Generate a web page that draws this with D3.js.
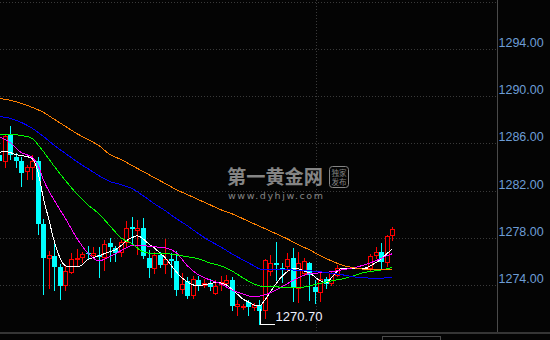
<!DOCTYPE html>
<html>
<head>
<meta charset="utf-8">
<script src="https://cdn.jsdelivr.net/npm/d3@7"></script>
<style>
  html, body { margin: 0; padding: 0; background: #040404; }
  svg { display: block; }
</style>
</head>
<body>
<svg id="kline" width="550" height="340"></svg>
<script>
// candles, oldest first
var open = [1285.06,1284.47,1286.68,1284.89,1284.55,1283.70,1283.96,1284.55,1279.19,1276.30,
  1276.47,1275.53,1274.00,1275.11,1276.17,1276.38,1276.72,1276.55,1276.55,1276.38,
  1277.57,1277.15,1276.81,1277.66,1278.94,1278.68,1278.85,1276.30,1275.45,1276.55,
  1275.79,1276.21,1276.04,1273.66,1274.34,1273.15,1274.43,1274.00,1274.17,1273.32,
  1274.09,1274.17,1274.43,1272.21,1272.13,1272.55,1272.13,1272.30,1271.87,1275.19,
  1275.87,1275.45,1275.62,1276.30,1273.74,1275.02,1275.87,1273.83,1273.40,1274.51,
  1274.17,1274.85,1275.42,1275.42,1275.42,1275.42,1275.42,1275.45,1276.55,1276.81,
  1275.96,1278.26];
var high = [1285.32,1286.77,1287.45,1285.23,1284.81,1284.21,1284.98,1284.81,1279.62,1276.89,
  1277.66,1275.79,1275.70,1276.72,1277.06,1276.81,1277.32,1277.23,1277.23,1277.83,
  1278.00,1277.32,1277.83,1279.45,1279.79,1279.53,1279.70,1276.98,1276.81,1276.81,
  1277.91,1276.72,1276.89,1275.02,1274.68,1274.77,1274.77,1274.51,1274.51,1274.43,
  1274.77,1274.85,1274.68,1272.72,1272.38,1272.72,1272.47,1272.72,1276.21,1276.55,
  1277.66,1275.87,1276.72,1277.15,1276.81,1276.30,1275.96,1274.43,1275.02,1274.68,
  1275.19,1275.70,1275.42,1275.42,1275.42,1275.42,1275.42,1276.64,1277.23,1277.57,
  1278.26,1278.94];
var low = [1284.21,1283.96,1284.64,1284.04,1282.43,1282.94,1282.94,1278.34,1273.23,1273.74,
  1273.57,1272.81,1273.57,1275.02,1275.70,1275.96,1276.30,1276.30,1274.68,1275.28,
  1276.04,1276.04,1276.47,1277.23,1277.57,1276.64,1276.30,1274.68,1275.02,1275.53,
  1275.02,1274.68,1273.15,1273.32,1272.89,1272.89,1273.57,1273.83,1273.57,1273.23,
  1273.57,1274.00,1271.87,1271.45,1271.96,1271.45,1271.87,1270.70,1271.19,1274.85,
  1274.43,1274.26,1275.28,1272.64,1272.55,1274.85,1272.72,1272.47,1272.64,1273.74,
  1274.00,1274.77,1275.42,1275.42,1275.42,1275.42,1275.42,1275.28,1276.30,1275.45,
  1275.62,1277.83];
var close = [1284.47,1286.60,1285.06,1284.55,1283.53,1283.96,1284.55,1279.19,1276.30,1276.55,
  1275.53,1273.91,1275.19,1276.21,1276.30,1276.64,1276.64,1276.72,1276.38,1277.49,
  1277.23,1276.72,1277.66,1278.85,1278.77,1278.85,1276.47,1275.45,1276.55,1275.70,
  1276.21,1276.04,1273.57,1274.09,1273.06,1274.51,1274.00,1274.17,1273.83,1273.91,
  1274.26,1274.43,1272.21,1272.38,1272.21,1272.13,1272.30,1271.79,1276.13,1275.87,
  1275.70,1275.28,1276.21,1273.74,1275.87,1276.04,1274.85,1273.40,1274.51,1274.09,
  1275.02,1275.42,1275.42,1275.42,1275.42,1275.42,1275.42,1276.47,1276.81,1275.96,
  1278.17,1278.77];

// moving averages: [candle index, price]
var ma5 = [1285.23,1285.32,1285.23,1285.06,1284.98,1284.89,1284.72,1283.62,1281.40,1279.53,
  1277.66,1276.30,1275.62,1275.53,1275.53,1275.70,1276.13,1276.30,1276.47,1276.64,
  1276.81,1276.98,1277.32,1277.74,1278.00,1278.17,1277.91,1277.49,1277.15,1276.72,
  1276.30,1275.70,1275.11,1274.60,1274.26,1274.00,1273.91,1274.00,1274.09,1274.17,
  1274.17,1274.00,1273.66,1273.23,1272.81,1272.55,1272.30,1272.21,1272.72,1273.40,
  1274.09,1274.68,1275.11,1275.36,1275.36,1275.19,1275.02,1274.68,1274.34,1274.17,
  1274.60,1275.11,1275.42,1275.42,1275.42,1275.42,1275.42,1275.62,1275.87,1276.21,
  1276.64,1277.06].map(function (v, i) { return [i, v]; });
var ma10 = [[0,1286.59],[2,1286.08],[4,1285.23],[6,1284.81],[7,1284.21],[8,1282.94],[10,1281.15],
  [12,1279.62],[14,1278.00],[16,1276.72],[18,1276.04],[20,1276.38],[22,1276.89],[24,1277.32],
  [26,1277.32],[28,1277.23],[30,1277.15],[32,1276.72],[34,1275.62],[36,1274.85],[38,1274.43],
  [40,1274.09],[42,1273.57],[44,1273.23],[46,1272.98],[48,1273.15],[50,1273.57],[52,1274.09],
  [54,1274.60],[56,1274.94],[58,1275.02],[60,1275.11],[62,1275.28],[64,1275.45],[66,1275.70],
  [68,1276.04],[70,1276.47],[71,1276.64]];
var ma20 = [[0,1286.77],[2,1286.77],[4,1286.68],[6,1286.43],[7,1285.91],[8,1285.32],[10,1284.04],
  [12,1282.85],[14,1281.74],[16,1280.81],[18,1280.04],[20,1279.02],[22,1278.00],[24,1277.49],
  [26,1276.81],[28,1276.64],[30,1276.64],[32,1276.55],[34,1276.38],[36,1276.21],[38,1275.87],
  [40,1275.62],[42,1275.19],[44,1274.60],[46,1274.09],[48,1273.83],[50,1273.83],[52,1273.74],
  [54,1273.74],[56,1273.91],[58,1274.13],[60,1274.34],[62,1274.51],[64,1274.77],[66,1275.06],
  [68,1275.19],[70,1275.36],[71,1275.49]];
var ma40 = [[0,1288.30],[2,1288.13],[4,1287.79],[6,1287.28],[8,1286.60],[10,1285.83],[12,1285.15],
  [14,1284.47],[16,1283.87],[18,1283.28],[20,1282.77],[22,1282.51],[24,1282.17],[26,1281.57],
  [28,1280.89],[30,1280.30],[32,1279.62],[34,1279.02],[36,1278.34],[38,1277.74],[40,1277.23],
  [42,1276.64],[44,1276.13],[46,1275.62],[47,1275.36],[48,1275.28],[50,1275.28],[52,1275.28],
  [54,1275.23],[56,1275.19],[58,1275.11],[60,1274.98],[62,1274.85],[64,1274.68],[66,1274.60],
  [68,1274.55],[70,1274.60],[71,1274.64]];
var ma60 = [[0,1289.83],[2,1289.66],[4,1289.40],[6,1289.06],[8,1288.64],[10,1288.04],[12,1287.45],
  [14,1286.85],[16,1286.34],[18,1285.83],[20,1285.06],[22,1284.64],[24,1284.13],[26,1283.62],
  [28,1283.11],[30,1282.60],[32,1282.08],[34,1281.66],[36,1281.23],[38,1280.81],[40,1280.38],
  [42,1280.04],[44,1279.62],[46,1279.19],[48,1278.77],[50,1278.34],[52,1277.91],[54,1277.40],
  [56,1276.98],[58,1276.47],[60,1276.04],[62,1275.66],[64,1275.45],[66,1275.32],[68,1275.28],
  [71,1275.28]];

var priceTicks = [1274, 1278, 1282, 1286, 1290, 1294];
var gridTicks = [1274, 1278, 1282, 1286, 1290, 1294, 1298];
var sessionBreak = 57;
var lowIndex = 47;

var W = 550, H = 340, plotRight = 497, plotBottom = 333;
var svg = d3.select('#kline');

svg.append('rect').attr('width', W).attr('height', H).attr('fill', '#040404');

var x = d3.scaleBand()
  .domain(d3.range(open.length))
  .range([-3.77, 395.1])
  .padding(0);
var y = d3.scaleLinear()
  .domain([1269.83, 1298.17])
  .range([334, 0]);
function cx(i) { return Math.round(x(i) + x.bandwidth() / 2); }

// grid
svg.append('g').selectAll('line')
  .data(gridTicks)
  .enter().append('line')
  .attr('x1', 0).attr('x2', plotRight)
  .attr('y1', function (d) { return Math.round(y(d)) + 0.5; })
  .attr('y2', function (d) { return Math.round(y(d)) + 0.5; })
  .attr('stroke', '#3a3a3a')
  .attr('stroke-dasharray', '1,2');
var bx = cx(sessionBreak) + 1.5;
svg.append('line')
  .attr('x1', bx).attr('x2', bx).attr('y1', 0).attr('y2', plotBottom)
  .attr('stroke', '#3a3a3a').attr('stroke-dasharray', '1,2');

// watermark
var wm = svg.append('g').attr('fill', '#858585');
wm.append('text')
  .attr('x', 227).attr('y', 183.5)
  .attr('textLength', 96).attr('lengthAdjust', 'spacingAndGlyphs')
  .style('font', 'bold 19.5px "Noto Sans CJK SC"')
  .text('第一黄金网');
wm.append('text')
  .attr('x', 228).attr('y', 199)
  .attr('textLength', 95).attr('lengthAdjust', 'spacing')
  .style('font', '9.5px "DejaVu Sans"')
  .text('www.dyhjw.com');
wm.append('rect')
  .attr('x', 329.5).attr('y', 166.5).attr('width', 19).attr('height', 21).attr('rx', 3)
  .attr('fill', 'none').attr('stroke', '#858585');
var badge = wm.append('text')
  .attr('text-anchor', 'middle')
  .style('font', '7.5px "Noto Sans CJK SC"');
badge.append('tspan').attr('x', 339).attr('y', 175.5).text('独家');
badge.append('tspan').attr('x', 339).attr('y', 185).text('发布');

// candles
var candles = svg.append('g').attr('shape-rendering', 'crispEdges')
  .selectAll('g')
  .data(d3.range(open.length))
  .enter().append('g');

candles.each(function (i) {
  var g = d3.select(this);
  var c = cx(i);
  var yo = Math.round(y(open[i])), yc = Math.round(y(close[i]));
  var yh = Math.round(y(high[i])), yl = Math.round(y(low[i]));
  var top = Math.min(yo, yc), bot = Math.max(yo, yc);
  if (close[i] > open[i]) {
    g.append('rect').attr('x', c).attr('width', 1).attr('y', yh).attr('height', Math.max(0, top - yh)).attr('fill', '#ff0000');
    g.append('rect').attr('x', c).attr('width', 1).attr('y', bot).attr('height', Math.max(0, yl - bot + 1)).attr('fill', '#ff0000');
    g.append('rect')
      .attr('x', c - 1.5).attr('width', 4)
      .attr('y', top + 0.5).attr('height', Math.max(1, bot - top))
      .attr('fill', '#040404').attr('stroke', '#ff0000');
  } else {
    var col = close[i] < open[i] ? '#00ffff' : '#ffffff';
    g.append('rect').attr('x', c).attr('width', 1).attr('y', yh).attr('height', yl - yh + 1).attr('fill', col);
    g.append('rect')
      .attr('x', c - 2).attr('width', 5)
      .attr('y', top).attr('height', Math.max(1, bot - top))
      .attr('fill', col);
  }
});

// moving averages
var line = d3.line()
  .x(function (d) { return x(d[0]) + x.bandwidth() / 2; })
  .y(function (d) { return y(d[1]); })
  .curve(d3.curveMonotoneX);
var mas = [
  { data: ma5, color: '#ffffff' },
  { data: ma10, color: '#ff00ff' },
  { data: ma20, color: '#00ff00' },
  { data: ma40, color: '#0000ff' },
  { data: ma60, color: '#ff8000' }
];
svg.append('g').selectAll('path')
  .data(mas)
  .enter().append('path')
  .attr('d', function (d) { return line(d.data); })
  .attr('fill', 'none')
  .attr('stroke', function (d) { return d.color; })
  .attr('stroke-width', 1)
  .attr('shape-rendering', 'crispEdges');

// lowest price marker
var lx = cx(lowIndex) + 1.5, ly = Math.round(y(low[lowIndex])) + 0.5;
svg.append('path')
  .attr('d', 'M' + lx + ',' + (ly - 16) + 'V' + ly + 'H' + (lx + 14))
  .attr('fill', 'none').attr('stroke', '#ffffff')
  .attr('shape-rendering', 'crispEdges');
svg.append('text')
  .attr('x', lx + 15).attr('y', ly - 4)
  .attr('fill', '#f0f2ff')
  .style('font', '13px "Liberation Sans", Arial, sans-serif')
  .text(d3.format('.2f')(low[lowIndex]));

// price axis
var axis = svg.append('g')
  .attr('transform', 'translate(' + (plotRight + 0.5) + ',0)')
  .call(d3.axisRight(y)
    .tickValues(priceTicks)
    .tickFormat(d3.format('.2f'))
    .tickSize(0)
    .tickSizeOuter(0)
    .tickPadding(1));
axis.select('.domain').attr('stroke', '#4a4a4a').attr('d', 'M0,0V' + plotBottom);
axis.selectAll('text')
  .attr('dy', '-0.2em')
  .attr('fill', '#6d9dd6')
  .style('font', '12.5px "Liberation Sans", Arial, sans-serif');

// bottom edge
svg.append('rect')
  .attr('x', 0).attr('y', plotBottom - 1).attr('width', W).attr('height', 2)
  .attr('fill', '#353535');
svg.append('rect')
  .attr('x', 382.5).attr('y', 336.5).attr('width', 58).attr('height', 12)
  .attr('fill', 'none').attr('stroke', '#4a4a4a');
</script>
</body>
</html>
